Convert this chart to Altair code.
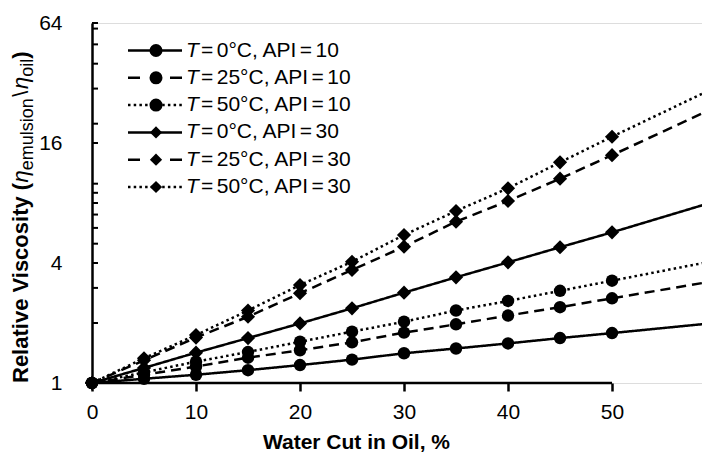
import altair as alt
import pandas as pd

# ---------------- data ----------------
water_cut = [0, 5, 10, 15, 20, 25, 30, 35, 40, 45, 50]
edge_cut = 59.4  # where the lines leave the picture

series_names = [
    "T=0°C, API=10",
    "T=25°C, API=10",
    "T=50°C, API=10",
    "T=0°C, API=30",
    "T=25°C, API=30",
    "T=50°C, API=30",
]
t0_api10 = [1.00, 1.05, 1.10, 1.16, 1.23, 1.31, 1.41, 1.49, 1.58, 1.68, 1.78]
t25_api10 = [1.00, 1.10, 1.21, 1.34, 1.46, 1.60, 1.79, 1.97, 2.18, 2.40, 2.66]
t50_api10 = [1.00, 1.13, 1.28, 1.43, 1.61, 1.81, 2.03, 2.31, 2.58, 2.90, 3.26]
t0_api30 = [1.00, 1.19, 1.42, 1.68, 1.99, 2.37, 2.84, 3.39, 4.03, 4.80, 5.70]
t25_api30 = [1.00, 1.30, 1.69, 2.15, 2.82, 3.69, 4.83, 6.45, 8.19, 10.6, 13.9]
t50_api30 = [1.00, 1.33, 1.74, 2.31, 3.10, 4.06, 5.53, 7.29, 9.48, 12.8, 17.2]
edge_values = [1.99, 3.22, 4.06, 8.0, 23.5, 29.5]

x_tick_values = [0, 10, 20, 30, 40, 50]
y_label_values = [1, 4, 16, 64]
y_tick_values = [2, 3, 4, 5, 6, 7, 8, 9, 10, 16, 20, 30, 40, 50, 60, 64]

# ---------------- styling ----------------
FONT = "Liberation Sans"
FS = 21
W, H = 610, 360
LW = 2.5
dash_styles = [[1, 0], [10, 6], [2.5, 3.2]] * 2
legend_dashes = [[1, 0], [12, 30], [2.5, 3.2]]
marker_shapes = ["circle"] * 3 + ["diamond"] * 3

all_values = [t0_api10, t25_api10, t50_api10, t0_api30, t25_api30, t50_api30]

point_rows, line_rows = [], []
for name, vals, edge, shp in zip(series_names, all_values, edge_values, marker_shapes):
    for xv, yv in zip(water_cut, vals):
        point_rows.append({"series": name, "x": xv, "v": yv, "shape": shp})
        line_rows.append({"series": name, "x": xv, "v": yv})
    line_rows.append({"series": name, "x": edge_cut, "v": edge})
points_df = pd.DataFrame(point_rows)
lines_df = pd.DataFrame(line_rows)

xs = alt.Scale(domain=[0, 58.65], nice=False, zero=False)
ys = alt.Scale(type="log", base=2, domain=[1, 64], nice=False, zero=False)

x_axis = alt.Axis(
    values=x_tick_values, title="Water Cut in Oil, %", domain=False, grid=False,
    ticks=True, tickSize=8, tickWidth=LW, tickColor="black",
    labelFont=FONT, labelFontSize=FS, labelColor="black", labelPadding=10,
    labelFlush=False, labelOverlap=False,
    titleFont=FONT, titleFontSize=FS, titleFontWeight="bold", titleColor="black",
    titleX=264, titleY=65, titleBaseline="alphabetic", titleAlign="center", titleAnchor="start",
)
y_axis = alt.Axis(
    values=y_label_values, title=None, domain=True, domainWidth=LW, domainColor="black",
    grid=False, ticks=False, tickSize=0, labelPadding=30,
    labelFont=FONT, labelFontSize=FS, labelColor="black", labelFlush=False, labelOverlap=False,
    format="d",
)

lines = alt.Chart(lines_df).mark_line(clip=True, strokeWidth=LW, color="black").encode(
    x=alt.X("x:Q", scale=xs, axis=x_axis),
    y=alt.Y("v:Q", scale=ys, axis=y_axis),
    strokeDash=alt.StrokeDash("series:N", scale=alt.Scale(domain=series_names, range=dash_styles), legend=None),
    detail="series:N",
)

circles = alt.Chart(points_df).transform_filter(alt.datum.shape == "circle").mark_point(
    shape="circle", filled=True, opacity=1, color="black", size=155
).encode(x=alt.X("x:Q", scale=xs), y=alt.Y("v:Q", scale=ys))

diamonds = alt.Chart(points_df).transform_filter(alt.datum.shape == "diamond").mark_point(
    shape="diamond", filled=True, opacity=1, color="black", size=200
).encode(x=alt.X("x:Q", scale=xs), y=alt.Y("v:Q", scale=ys))

# x axis line only from 0 to 50
x_line = alt.Chart(pd.DataFrame({"a": [0]})).mark_rule(strokeWidth=LW, color="black").encode(
    x=alt.datum(0), x2=alt.datum(50), y=alt.datum(1)
)

# inward y ticks
y_ticks = alt.Chart(pd.DataFrame({"t": y_tick_values})).mark_rule(strokeWidth=2, color="black").encode(
    x=alt.value(0), x2=alt.value(6), y=alt.Y("t:Q", scale=ys)
)

# ---------------- custom legend ----------------
ROW0, ROWSTEP = 27.5, 27.3
leg_rows = []
for i, name in enumerate(series_names):
    leg_rows.append({
        "series": name,
        "ly": ROW0 + ROWSTEP * i,
        "dash": i % 3,
        "shape": marker_shapes[i],
        "rest": name[1:].replace("=", "\u2006=\u2006").lstrip("\u2006"),
    })
leg_df = pd.DataFrame(leg_rows)

legend_layers = []
for k in range(3):
    legend_layers.append(
        alt.Chart(leg_df).transform_filter(alt.datum.dash == k).mark_rule(
            strokeWidth=LW, color="black", strokeDash=legend_dashes[k]
        ).encode(x=alt.value(36), x2=alt.value(90), y=alt.Y("ly:Q", scale=None))
    )
legend_layers.append(
    alt.Chart(leg_df).transform_filter(alt.datum.shape == "circle").mark_point(
        shape="circle", filled=True, opacity=1, color="black", size=170
    ).encode(x=alt.value(64), y=alt.Y("ly:Q", scale=None))
)
legend_layers.append(
    alt.Chart(leg_df).transform_filter(alt.datum.shape == "diamond").mark_point(
        shape="diamond", filled=True, opacity=1, color="black", size=150
    ).encode(x=alt.value(64), y=alt.Y("ly:Q", scale=None))
)
legend_layers.append(
    alt.Chart(leg_df).mark_text(
        font=FONT, fontSize=FS, fontStyle="italic", align="left", baseline="middle", color="black"
    ).encode(x=alt.value(94), y=alt.Y("ly:Q", scale=None), text=alt.value("T"))
)
legend_layers.append(
    alt.Chart(leg_df).mark_text(
        font=FONT, fontSize=FS, align="left", baseline="middle", color="black"
    ).encode(x=alt.value(109), y=alt.Y("ly:Q", scale=None), text="rest:N")
)

# ---------------- y title built from pieces ----------------
TFS = 22
SUB = 18
pieces = [
    ("Relative Viscosity (", "bold", 9.115 * TFS, 0),
    ("η", "italic", 0.556 * TFS, 0),
    ("emulsion", "sub", 4.001 * SUB + 1.5, 5),
    ("\\", "normal", 0.278 * TFS + 1.5, 0),
    ("η", "italic", 0.556 * TFS, 0),
    ("oil", "sub", 1.0 * SUB, 5),
    (")", "bold", 0.333 * TFS, 0),
]
TX, TY0 = -64, 360
rows, cur = [], TY0
for txt, style, wid, shift in pieces:
    rows.append({"txt": txt, "style": style, "tx": TX + shift, "ty": cur})
    cur -= wid
title_df = pd.DataFrame(rows)

title_layers = []
for style, kw in [
    ("bold", dict(fontWeight="bold", fontSize=TFS)),
    ("italic", dict(fontStyle="italic", fontSize=TFS)),
    ("normal", dict(fontSize=TFS)),
    ("sub", dict(fontSize=SUB)),
]:
    title_layers.append(
        alt.Chart(title_df).transform_filter(alt.datum.style == style).mark_text(
            font=FONT, angle=270, align="left", baseline="alphabetic", color="black", **kw
        ).encode(x=alt.X("tx:Q", scale=None), y=alt.Y("ty:Q", scale=None), text="txt:N")
    )

chart = alt.layer(
    lines, circles, diamonds, x_line, y_ticks, *legend_layers, *title_layers
).properties(
    width=W, height=H,
    autosize=alt.AutoSizeParams(type="none"),
    padding={"left": 84, "top": 15, "right": 0, "bottom": 70},
).configure_view(stroke=None).configure(background="white")

chart.save("out.html", embed_options={"renderer": "svg", "actions": False})
